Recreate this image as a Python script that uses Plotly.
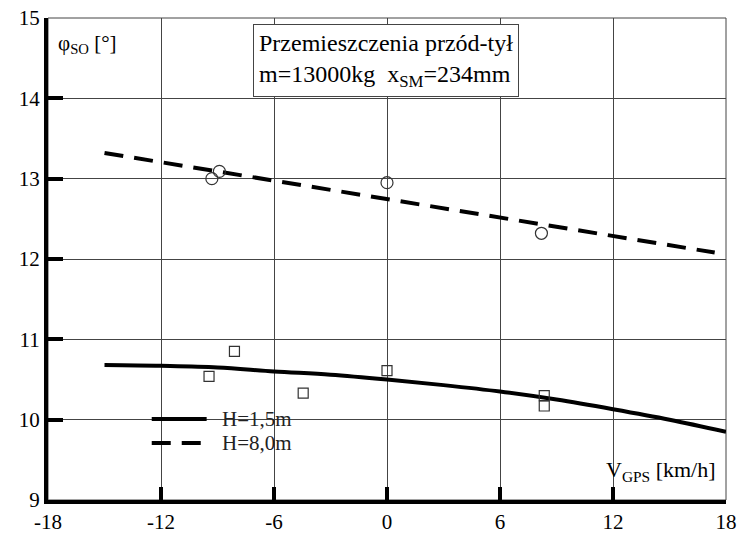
import plotly.graph_objects as go

# Fitted lines
line_x = [-15, -12, -9, -6, -3, 0, 3, 6, 9, 12, 15, 18]
h15_y = [10.68, 10.67, 10.65, 10.60, 10.56, 10.50, 10.43, 10.35, 10.25, 10.13, 10.0, 9.85]
h80_x = [-15, 17.4]
h80_y = [13.32, 12.08]

# Measured points
circ_x = [-9.3, -8.9, 0.0, 8.2]
circ_y = [13.00, 13.09, 12.95, 12.32]
sq_x = [-8.1, -9.45, -4.45, 0.0, 8.35, 8.35]
sq_y = [10.85, 10.54, 10.33, 10.61, 10.30, 10.17]

x_ticks = [-18, -12, -6, 0, 6, 12, 18]
y_ticks = [9, 10, 11, 12, 13, 14, 15]

series_names = ["H=1,5m", "H=8,0m"]
DASH = "19px,11px"

FONT = "Liberation Serif, Times New Roman, serif"

fig = go.Figure()
fig.add_trace(go.Scatter(x=line_x, y=h15_y, mode="lines", name=series_names[0],
                         showlegend=False,
                         line=dict(color="black", width=4, shape="spline")))
fig.add_trace(go.Scatter(x=h80_x, y=h80_y, mode="lines", name=series_names[1],
                         showlegend=False,
                         line=dict(color="black", width=4, dash=DASH)))
fig.add_trace(go.Scatter(x=circ_x, y=circ_y, mode="markers", showlegend=False,
                         marker=dict(symbol="circle-open", size=12, color="#333",
                                     line=dict(width=1.2))))
fig.add_trace(go.Scatter(x=sq_x, y=sq_y, mode="markers", showlegend=False,
                         marker=dict(symbol="square-open", size=10, color="#333",
                                     line=dict(width=1.2))))

fig.update_layout(
    width=740, height=539,
    margin=dict(l=48, r=14, t=18, b=39),
    paper_bgcolor="white", plot_bgcolor="white",
    font=dict(family=FONT, size=21, color="black"),
    showlegend=False,
    xaxis=dict(range=[-18, 18], tickvals=x_ticks, ticktext=[str(v) for v in x_ticks],
               showgrid=True, gridcolor="#444", gridwidth=1, automargin=False,
               showline=True, linecolor="black", linewidth=4,
               ticks="inside", ticklen=13, tickwidth=4, tickcolor="black",
               zeroline=False, tickfont=dict(family=FONT, size=21)),
    yaxis=dict(range=[9, 15], tickvals=y_ticks, ticktext=[str(v) for v in y_ticks],
               showgrid=True, gridcolor="#444", gridwidth=1, automargin=False,
               showline=True, linecolor="black", linewidth=4,
               ticks="inside", ticklen=15, tickwidth=4, tickcolor="black",
               zeroline=False, tickfont=dict(family=FONT, size=21)),
)

# thin frame on top/right
fig.add_shape(type="rect", xref="paper", yref="paper", x0=0, x1=1, y0=0, y1=1,
              line=dict(color="#444", width=1), layer="below")
# white areas hiding grid behind legend and x-axis title
fig.add_shape(type="rect", xref="paper", yref="paper", x0=0.005, x1=0.383, y0=0.046, y1=0.208,
              line=dict(width=0), fillcolor="white", layer="between")
fig.add_shape(type="rect", xref="paper", yref="paper", x0=0.82, x1=0.995, y0=0.035, y1=0.1,
              line=dict(width=0), fillcolor="white", layer="between")

# legend (key samples + labels)
legend_rows = [(0.168, None), (0.118, DASH)]
for (ly, dash), name in zip(legend_rows, series_names):
    fig.add_shape(type="line", xref="paper", yref="paper", x0=0.153, x1=0.234, y0=ly, y1=ly,
                  line=dict(color="black", width=4, dash=dash), layer="above")
    fig.add_annotation(xref="paper", yref="paper", x=0.254, y=ly, xanchor="left", yanchor="middle",
                       text=name, showarrow=False,
                       font=dict(family=FONT, size=21, color="#222"))

fig.add_annotation(xref="paper", yref="paper", x=0.012, y=0.978, xanchor="left", yanchor="top",
                   text="φ<sub>SO</sub> [°]", showarrow=False,
                   font=dict(family=FONT, size=21, color="black"))
fig.add_annotation(xref="paper", yref="paper", x=0.988, y=0.028, xanchor="right", yanchor="bottom",
                   text="V<sub>GPS</sub> [km/h]", showarrow=False,
                   font=dict(family=FONT, size=22, color="black"))
fig.add_annotation(xref="paper", yref="paper", x=0.499, y=0.988, xanchor="center", yanchor="top",
                   text="Przemieszczenia przód-tył<br>m=13000kg&nbsp;&nbsp;x<sub>SM</sub>=234mm",
                   showarrow=False, bgcolor="white", bordercolor="#444", borderwidth=1,
                   borderpad=5, align="left",
                   font=dict(family=FONT, size=24, color="black"))

fig.write_html("out.html")
